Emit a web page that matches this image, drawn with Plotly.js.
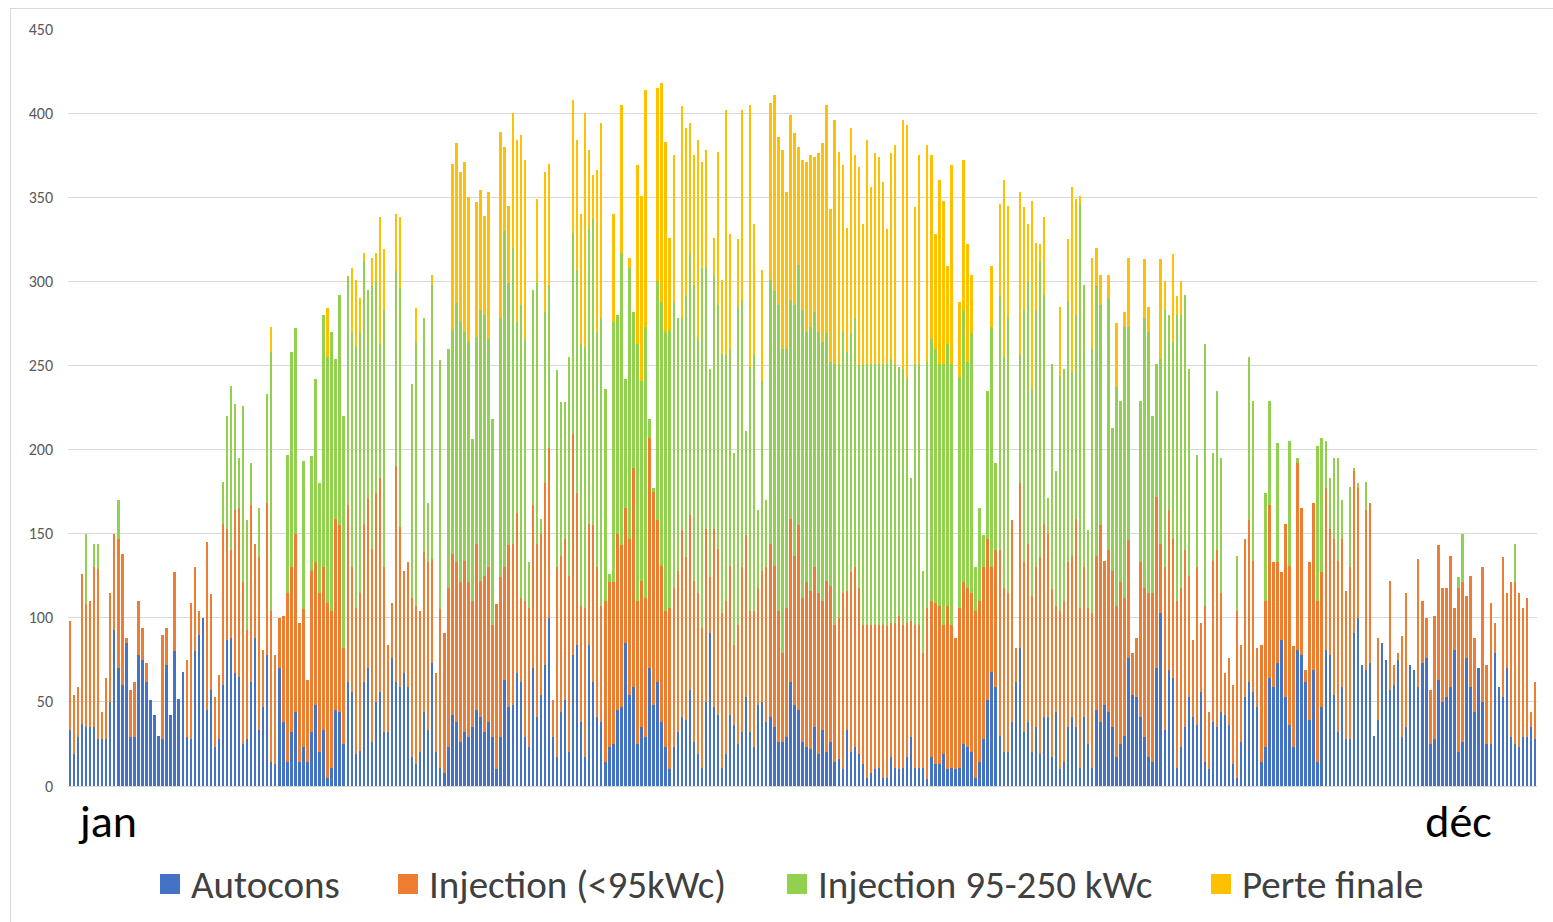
<!DOCTYPE html>
<html>
<head>
<meta charset="utf-8">
<script src="https://cdn.plot.ly/plotly-3.0.1.min.js"></script>
<style>
html,body{margin:0;padding:0;background:#fff;}
#wrap{position:relative;width:1553px;height:922px;overflow:hidden;}
#chart{position:absolute;left:0;top:0;width:1553px;height:922px;}
#frame{position:absolute;left:10px;top:8px;width:1560px;height:940px;border:1px solid #D9D9D9;pointer-events:none;}
</style>
</head>
<body>
<div id="wrap"><div id="chart"></div><div id="frame"></div></div>
<script>
const seriesNames = ['Autocons', 'Injection (<95kWc)', 'Injection 95-250 kWc', 'Perte finale'];
const monthLabels = ['jan', 'déc'];
const labelDays = [10.5, 346];

const autocons = [
33,19,29,37,35,35,35,28,28,28,
50,93,70,60,85,29,29,78,75,62,
51,42,30,28,72,42,80,52,68,29,
28,80,90,100,45,57,23,28,60,87,
88,67,65,25,28,62,88,33,47,78,
14,13,70,38,14,32,44,14,23,14,
32,48,20,33,5,11,45,44,25,62,
56,19,21,62,70,26,50,56,32,32,
76,62,59,67,59,17,13,20,44,33,
73,20,11,8,23,42,38,26,32,29,
35,45,41,32,38,29,10,29,63,47,
48,67,62,29,23,70,41,54,72,100,
29,17,44,51,20,78,84,38,17,84,
62,41,38,14,23,25,45,47,85,54,
59,25,35,29,70,48,62,38,23,10,
23,32,41,39,57,26,19,11,50,91,
47,42,11,19,42,36,25,32,53,32,
23,48,50,38,41,35,26,26,29,62,
48,45,26,23,22,35,19,33,20,26,
14,16,10,33,20,23,19,13,5,8,
10,11,5,5,17,11,10,11,17,29,
11,11,11,4,17,13,13,19,10,11,
10,11,25,23,20,5,14,28,51,68,
59,30,20,20,38,62,82,32,38,20,
35,19,41,41,17,44,10,14,35,41,
35,11,41,25,11,45,38,48,44,35,
17,25,30,76,54,53,41,29,17,14,
70,103,33,69,64,11,23,35,53,41,
36,56,14,10,38,35,44,42,36,13,
5,26,53,62,56,47,14,23,64,59,
73,87,53,36,23,81,78,62,39,69,
14,47,81,78,54,32,59,28,28,91,
100,72,69,73,30,39,85,75,57,60,
75,29,35,72,69,59,73,76,25,28,
63,50,53,59,81,20,26,76,59,44,
70,50,25,25,79,59,53,70,29,25,
23,29,29,35,28
];

const injection95 = [
65,35,30,89,73,75,95,101,16,36,
65,57,77,78,3,28,33,32,19,11,
0,0,0,62,22,0,47,0,0,46,
81,50,14,0,100,57,30,38,96,66,
52,97,100,96,65,105,56,103,34,90,
90,65,30,63,101,98,106,83,82,49,
96,85,95,97,104,93,114,111,57,105,
74,87,94,94,101,115,124,127,98,52,
33,128,95,61,74,95,94,84,95,100,
62,47,94,83,95,96,95,95,102,92,
75,99,81,93,92,67,98,95,67,96,
96,95,50,81,83,97,103,96,108,101,
22,113,93,96,105,131,90,69,89,72,
93,89,69,96,98,96,105,96,80,93,
130,85,87,83,137,127,96,93,81,96,
95,96,111,97,104,96,96,83,103,33,
106,99,92,91,89,48,71,98,96,72,
81,70,78,92,103,96,78,53,77,97,
89,110,86,98,94,95,96,77,102,93,
82,84,105,83,107,107,99,83,91,88,
86,85,91,90,80,86,91,85,80,69,
85,85,68,102,93,96,94,77,97,85,
78,95,96,95,95,99,96,102,96,62,
81,110,98,95,120,20,98,101,106,93,
95,117,115,109,100,63,94,96,98,96,
124,95,89,81,92,92,117,86,96,93,
90,96,82,70,25,35,92,89,98,101,
102,41,97,95,83,99,95,105,72,46,
94,41,93,34,96,105,71,25,40,47,
99,58,94,96,78,35,70,87,103,74,
60,40,103,95,60,111,87,7,94,99,
96,80,96,75,93,102,88,88,102,96,
77,0,95,95,0,49,0,0,65,12,
4,60,80,0,0,76,37,24,32,73,
80,68,65,78,25,98,95,37,66,44,
0,80,47,84,18,0,83,45,92,96,
92,77,83,9,34
];

const injection250 = [
0,0,0,0,42,0,14,15,0,0,
0,0,23,0,0,0,0,0,0,0,
0,0,0,0,0,0,0,0,0,0,
0,0,0,0,0,0,0,0,25,67,
98,63,30,105,65,25,0,29,0,65,
154,0,0,0,82,128,122,0,88,0,
68,109,65,150,146,166,95,137,138,136,
140,155,154,156,124,156,126,80,153,0,
0,116,142,0,0,127,157,0,139,35,
163,0,148,0,142,133,154,155,136,143,
96,123,161,155,136,122,0,154,200,156,
176,114,174,156,27,128,155,9,102,97,
0,117,91,81,130,120,133,156,155,175,
182,140,171,126,5,155,130,174,77,161,
93,153,119,161,11,2,142,157,166,165,
170,150,126,155,155,176,151,214,156,124,
151,145,154,146,129,114,189,159,62,145,
152,46,113,40,157,163,182,181,154,130,
149,155,171,149,157,152,155,154,147,133,
155,151,155,142,142,148,132,154,155,155,
155,155,155,156,157,154,148,152,145,85,
155,155,49,146,156,151,144,155,156,155,
0,137,162,134,154,26,55,19,88,143,
52,151,137,164,0,0,77,150,156,123,
153,176,136,21,134,80,140,138,155,109,
121,240,168,46,157,160,131,0,150,85,
130,108,161,127,0,0,96,160,155,105,
79,110,153,116,117,170,162,152,123,0,
67,0,156,0,64,95,80,0,0,0,
33,0,0,97,95,0,0,64,62,0,
71,0,0,74,0,3,0,0,0,0,
92,80,28,30,48,61,23,0,48,2,
3,0,17,0,0,0,0,0,0,0,
0,0,0,0,0,0,0,0,0,0,
0,0,0,0,0,6,29,0,0,0,
0,0,0,0,0,0,0,0,0,23,
0,0,0,0,0
];

const perteFinale = [
0,0,0,0,0,0,0,0,0,0,
0,0,0,0,0,0,0,0,0,0,
0,0,0,0,0,0,0,0,0,0,
0,0,0,0,0,0,0,0,0,0,
0,0,0,0,0,0,0,0,0,0,
15,0,0,0,0,0,0,0,0,0,
0,0,0,0,29,0,0,0,0,0,
38,40,21,5,0,17,17,75,36,0,
0,34,42,0,0,0,20,0,0,0,
6,0,0,0,0,99,95,89,101,86,
0,80,71,59,87,0,0,111,50,46,
80,108,101,106,0,0,50,0,83,72,
0,0,0,0,0,79,77,77,139,47,
26,96,116,0,0,64,0,88,0,6,
0,106,110,141,0,0,115,130,113,55,
87,0,126,100,78,77,118,63,69,0,
22,91,44,146,68,0,40,113,0,156,
78,0,66,0,105,117,100,118,93,110,
102,70,89,101,102,92,106,118,136,91,
145,126,99,74,122,97,118,84,133,105,
125,123,108,80,122,130,0,148,151,0,
93,124,0,129,109,68,109,97,46,118,
0,45,89,70,35,0,0,0,0,36,
0,55,105,66,0,0,96,61,34,112,
40,10,46,0,0,0,41,0,37,110,
69,5,0,0,54,23,18,0,14,0,
38,0,9,41,0,0,0,35,15,0,
0,59,17,0,52,11,20,0,0,0,
0,0,0,0,0,0,0,0,0,0,
0,0,0,0,0,0,0,0,0,0,
0,0,0,0,0,0,0,0,0,0,
0,0,0,0,0,0,0,0,0,0,
0,0,0,0,0,0,0,0,0,0,
0,0,0,0,0,0,0,0,0,0,
0,0,0,0,0,0,0,0,0,0,
0,0,0,0,0,0,0,0,0,0,
0,0,0,0,0
];

const colors = ['#4472C4', '#ED7D31', '#92D050', '#FFC000'];
const seriesData = [autocons, injection95, injection250, perteFinale];
const days = autocons.map((_, i) => i + 1);

const traces = seriesData.map((vals, k) => ({
  type: 'bar',
  name: seriesNames[k],
  x: days,
  y: vals,
  marker: {color: colors[k], line: {width: 0}},
  hoverinfo: 'x+y+name'
}));

const font = 'Carlito, Lato, "Liberation Sans", sans-serif';

const W = 1553, H = 922;
const M = {l: 68, r: 16, t: 29, b: 136};
const plotW = W - M.l - M.r, plotH = H - M.t - M.b;
const pxToPaperX = px => (px - M.l) / plotW;
const pxToPaperY = py => (H - M.b - py) / plotH;

const legendMarkerX = [160, 398, 787, 1211];
const legendRowY = 884;
const markerSize = 20;

const shapes = [];
const annotations = [];
seriesNames.forEach((name, k) => {
  const x0 = legendMarkerX[k];
  shapes.push({
    type: 'rect', xref: 'paper', yref: 'paper',
    x0: pxToPaperX(x0), x1: pxToPaperX(x0 + markerSize),
    y0: pxToPaperY(legendRowY + markerSize / 2), y1: pxToPaperY(legendRowY - markerSize / 2),
    fillcolor: colors[k], line: {width: 0}
  });
  annotations.push({
    xref: 'paper', yref: 'paper',
    x: pxToPaperX(x0 + markerSize + 9), y: pxToPaperY(legendRowY),
    xanchor: 'left', yanchor: 'middle',
    text: name, showarrow: false,
    font: {family: font, size: 39, color: '#404040'}
  });
});

const layout = {
  width: W,
  height: H,
  barmode: 'stack',
  bargap: 0.4,
  paper_bgcolor: '#ffffff',
  plot_bgcolor: '#ffffff',
  margin: M,
  showlegend: false,
  shapes: shapes,
  annotations: annotations,
  xaxis: {
    range: [0.5, days.length + 0.5],
    tickmode: 'array',
    tickvals: labelDays,
    ticktext: monthLabels,
    ticks: '',
    showgrid: false,
    zeroline: false,
    showline: true,
    linecolor: '#D9D9D9',
    linewidth: 1,
    ticklabelstandoff: -5,
    tickfont: {family: font, size: 46, color: '#000000'},
    fixedrange: true
  },
  yaxis: {
    range: [0, 450],
    dtick: 50,
    tick0: 0,
    showgrid: true,
    gridcolor: '#D9D9D9',
    gridwidth: 1,
    zeroline: false,
    showline: false,
    ticks: '',
    ticklabelstandoff: 14,
    tickfont: {family: font, size: 16, color: '#595959'},
    fixedrange: true
  }
};

Plotly.newPlot('chart', traces, layout, {displayModeBar: false, staticPlot: true});
</script>
</body>
</html>
